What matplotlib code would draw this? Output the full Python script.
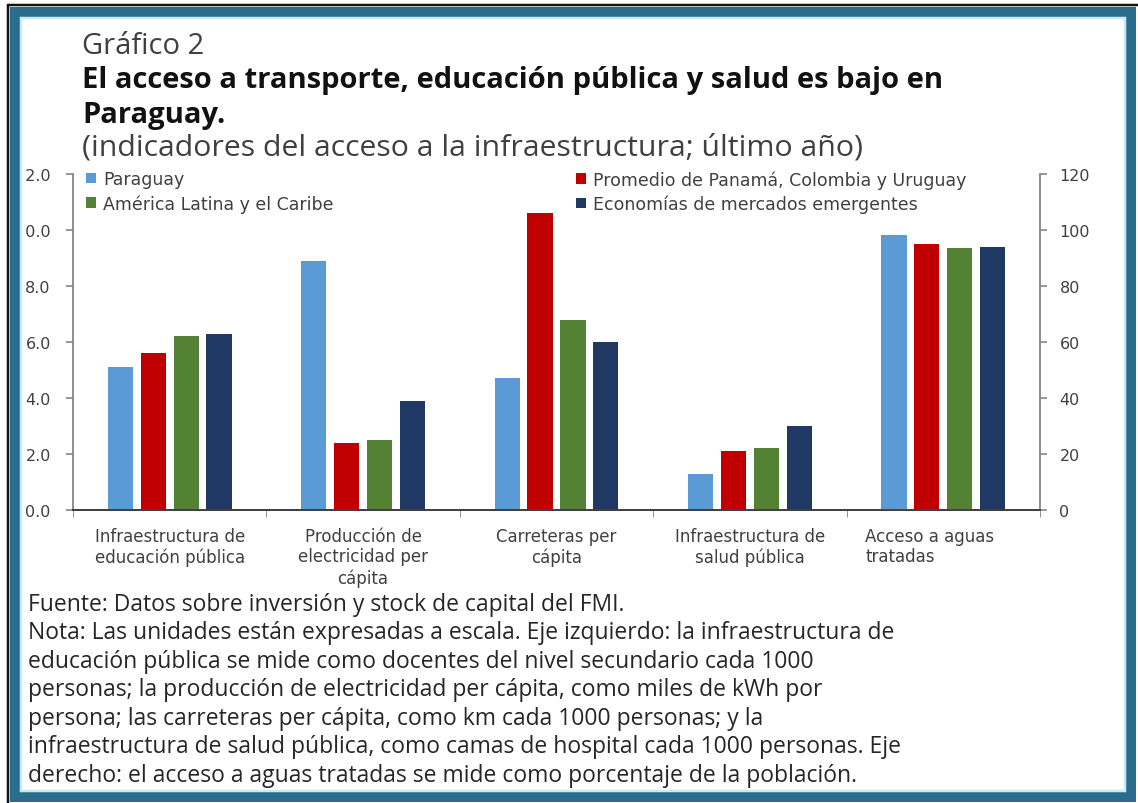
import numpy as np
import matplotlib
matplotlib.use("Agg")
import matplotlib.pyplot as plt
from matplotlib.patches import Rectangle, Patch
from matplotlib.transforms import Bbox, ScaledTranslation

# ---------------- data ----------------
categories = [
    "Infraestructura de\neducación pública",
    "Producción de\nelectricidad per\ncápita",
    "Carreteras per\ncápita",
    "Infraestructura de\nsalud pública",
    "Acceso a aguas\ntratadas",
]
series_names = [
    "Paraguay",
    "Promedio de Panamá, Colombia y Uruguay",
    "América Latina y el Caribe",
    "Economías de mercados emergentes",
]
paraguay = [5.1, 8.9, 4.7, 1.3, 98.2]
promedio = [5.6, 2.4, 10.6, 2.1, 95.0]
america_latina = [6.2, 2.5, 6.8, 2.2, 93.5]
emergentes = [6.3, 3.9, 6.0, 3.0, 94.0]
right_axis_categories = [4]          # plotted against the right axis
left_ticks = [0, 2, 4, 6, 8, 10, 12]
right_ticks = [0, 20, 40, 60, 80, 100, 120]

title_small = "Gráfico 2"
title_bold = "El acceso a transporte, educación pública y salud es bajo en\nParaguay."
subtitle = "(indicadores del acceso a la infraestructura; último año)"
footer = [
    "Fuente: Datos sobre inversión y stock de capital del FMI.",
    "Nota: Las unidades están expresadas a escala. Eje izquierdo: la infraestructura de",
    "educación pública se mide como docentes del nivel secundario cada 1000",
    "personas; la producción de electricidad per cápita, como miles de kWh por",
    "persona; las carreteras per cápita, como km cada 1000 personas; y la",
    "infraestructura de salud pública, como camas de hospital cada 1000 personas. Eje",
    "derecho: el acceso a aguas tratadas se mide como porcentaje de la población.",
]

colors = ["#5b9bd5", "#c00000", "#548235", "#1f3864"]

# ---------------- figure ----------------
W, H = 1138, 804
fig = plt.figure(figsize=(W / 100, H / 100), dpi=100)
fig.patch.set_facecolor("white")

def fx(px):
    return px / W

def fy(py):
    return 1 - py / H

TFONT = ["Open Sans", "DejaVu Sans"]
AFONT = ["DejaVu Sans"]

ax_left, ax_right, ax_top, ax_bot = 73, 1040, 175, 511
ax = fig.add_axes([fx(ax_left), fy(ax_bot), fx(ax_right - ax_left), (ax_bot - ax_top) / H])
ax2 = ax.twinx()

x = np.arange(len(categories))
width = 0.13
step = 0.17
all_series = [paraguay, promedio, america_latina, emergentes]
handles = []
for i, (vals, c, name) in enumerate(zip(all_series, colors, series_names)):
    left_vals = [np.nan if k in right_axis_categories else v for k, v in enumerate(vals)]
    right_vals = [v if k in right_axis_categories else np.nan for k, v in enumerate(vals)]
    ax.bar(x + (i - 1.5) * step, left_vals, width, color=c, zorder=2)
    ax2.bar(x + (i - 1.5) * step, right_vals, width, color=c, zorder=2)
    handles.append(Patch(facecolor=c, label=name))

ax.set_xlim(-0.5, len(categories) - 0.5)
ax.set_ylim(0, 12)
ax2.set_ylim(0, 120)
ax.set_yticks(left_ticks)
ax.set_yticklabels([f"{v:.1f}" for v in left_ticks])
ax2.set_yticks(right_ticks)
ax2.set_yticklabels([f"{v}" for v in right_ticks])

ax.set_xticks(x)
ax.set_xticklabels(categories, family=AFONT, fontsize=12, color="#404040", linespacing=1.2)
ax.set_xticks(np.arange(len(categories) + 1) - 0.5, minor=True)
ax.tick_params(axis="x", which="major", length=0, pad=12)
ax.tick_params(axis="x", which="minor", length=5, color="#808080", direction="out")
# last label is left-aligned in the reference
lab = ax.get_xticklabels()[-1]
lab.set_ha("left")
lab.set_transform(lab.get_transform() + ScaledTranslation(-0.78, 0, fig.dpi_scale_trans))

for a in (ax, ax2):
    a.set_facecolor("none")
    a.spines["top"].set_visible(False)
    a.spines["left"].set_color("#868686")
    a.spines["right"].set_color("#868686")
    a.spines["bottom"].set_color("#404040")
    a.spines["left"].set_linewidth(1.3)
    a.spines["right"].set_linewidth(1.3)
    a.spines["bottom"].set_linewidth(1.3)
ax.spines["right"].set_visible(False)
ax2.spines["left"].set_visible(False)
ax.tick_params(axis="y", length=5, width=1.2, color="#868686", pad=11, labelsize=11.5, labelcolor="#404040")
ax2.tick_params(axis="y", length=5, width=1.2, color="#868686", pad=9, labelsize=11.5, labelcolor="#404040")
for t in ax.get_yticklabels() + ax2.get_yticklabels():
    t.set_family(AFONT)

# legend (two columns, as two legends)
leg_kw = dict(frameon=False, prop={"family": AFONT, "size": 12.5}, handlelength=0.55,
              handleheight=0.55, handletextpad=0.45, labelspacing=0.36, borderpad=0,
              borderaxespad=0, loc="upper left", bbox_transform=fig.transFigure)
leg1 = ax2.legend(handles=[handles[0], handles[2]], bbox_to_anchor=(fx(86), fy(171)), **leg_kw)
for t in leg1.get_texts():
    t.set_color("#404040")
ax2.add_artist(leg1)
leg2 = ax2.legend(handles=[handles[1], handles[3]], bbox_to_anchor=(fx(576), fy(171)), **leg_kw)
for t in leg2.get_texts():
    t.set_color("#404040")

# titles
fig.text(fx(82), fy(47), title_small, family=TFONT, fontsize=21, color="#404040", va="center")
fig.text(fx(82), fy(98), title_bold, family=TFONT, fontsize=21, fontweight="bold",
         color="#111111", va="center", linespacing=1.27)
fig.text(fx(82), fy(148), subtitle, family=TFONT, fontsize=21.8, color="#404040", va="center")

# footer
for k, line in enumerate(footer):
    fig.text(fx(28), fy(605 + k * 28.5), line, family=TFONT, fontsize=16.5, color="#262626", va="center")

# frame
def frame_rect(l, t, r, b, lw_px, color):
    rect = Rectangle((fx(l), fy(b)), fx(r - l), (b - t) / H, transform=fig.transFigure,
                     fill=False, edgecolor=color, linewidth=lw_px * 0.72, zorder=20)
    fig.add_artist(rect)

frame_rect(8, 5.5, 1145, 812, 2.5, "#111111")
frame_rect(15, 13, 1131, 798, 10, "#2b6c8c")
frame_rect(21, 19, 1125, 792, 2.5, "#c4ecf6")

# the leading digit of the two-digit left tick labels is hidden by the frame in the reference
fig.canvas.draw()
renderer = fig.canvas.get_renderer()
for t in ax.get_yticklabels():
    s = t.get_text()
    if len(s) > 3:
        ext = t.get_window_extent(renderer)
        w_rest, _, _ = renderer.get_text_width_height_descent(s[1:], t.get_fontproperties(), ismath=False)
        t.set_clip_box(Bbox.from_extents(ext.x1 - w_rest - 0.5, 0, W, H))
        t.set_clip_on(True)

fig.savefig("out.png", dpi=100)
